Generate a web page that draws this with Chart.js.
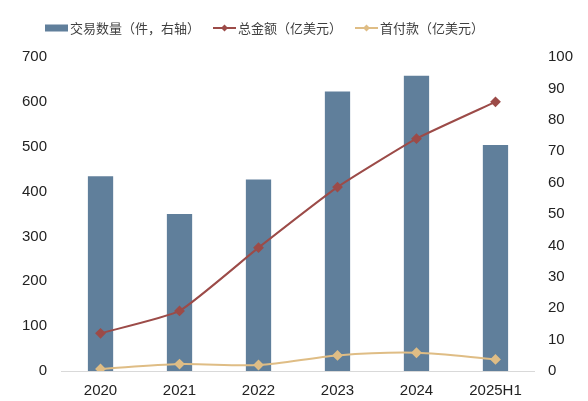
<!DOCTYPE html>
<html>
<head>
<meta charset="utf-8">
<script src="https://cdn.jsdelivr.net/npm/chart.js@4/dist/chart.umd.min.js"></script>
<style>
  html, body { margin: 0; padding: 0; background: #fff; }
  #wrap { width: 588px; height: 401px; }
</style>
</head>
<body>
<div id="wrap"><canvas id="chart" width="588" height="401"></canvas></div>
<script>
// 年份
const years = ["2020", "2021", "2022", "2023", "2024", "2025H1"];
// 交易数量（件，右轴）
const dealCount = [62, 50, 61, 89, 94, 72];
// 总金额（亿美元）
const totalAmount = [84, 134, 275, 410, 518, 600];
// 首付款（亿美元）
const upfront = [4.4, 15.5, 13.3, 34.7, 40.6, 25.9];

const leftTicks = [0, 100, 200, 300, 400, 500, 600, 700];
const rightTicks = [0, 10, 20, 30, 40, 50, 60, 70, 80, 90, 100];

const barColor = "#607f9b";
const redColor = "#9c4b48";
const goldColor = "#dfbd85";
const numFont = { family: "'Liberation Sans', Arial, sans-serif", size: 15 };

// 凡例を自前で描く（線＋菱形マーカー）
const legendPlugin = {
    id: "customLegend",
    afterDraw(chart) {
        const ctx = chart.ctx;
        const y = 28;
        ctx.save();
        ctx.font = "13px 'Noto Sans CJK SC', sans-serif";
        ctx.textBaseline = "middle";
        let x = 45;
        chart.data.datasets.forEach(function (ds) {
            if (ds.type === "bar") {
                ctx.fillStyle = ds.backgroundColor;
                ctx.fillRect(x, y - 3.5, 23, 7);
            } else {
                ctx.strokeStyle = ds.borderColor;
                ctx.lineWidth = 2;
                ctx.beginPath();
                ctx.moveTo(x, y);
                ctx.lineTo(x + 23, y);
                ctx.stroke();
                ctx.fillStyle = ds.borderColor;
                ctx.beginPath();
                ctx.moveTo(x + 11.5, y - 3.5);
                ctx.lineTo(x + 15, y);
                ctx.lineTo(x + 11.5, y + 3.5);
                ctx.lineTo(x + 8, y);
                ctx.closePath();
                ctx.fill();
            }
            x += 25;
            ctx.fillStyle = "#404040";
            ctx.fillText(ds.label, x, y);
            x += ctx.measureText(ds.label).width + 13;
        });
        ctx.restore();
    }
};

new Chart(document.getElementById("chart"), {
    data: {
        labels: years,
        datasets: [
            {
                type: "bar",
                label: "交易数量（件，右轴）",
                data: dealCount,
                yAxisID: "yRight",
                backgroundColor: barColor,
                barPercentage: 0.32,
                categoryPercentage: 1.0,
                order: 2
            },
            {
                type: "line",
                label: "总金额（亿美元）",
                data: totalAmount,
                yAxisID: "yLeft",
                borderColor: redColor,
                backgroundColor: redColor,
                borderWidth: 2,
                pointStyle: "rectRot",
                pointRadius: 4,
                tension: 0.15,
                order: 1
            },
            {
                type: "line",
                label: "首付款（亿美元）",
                data: upfront,
                yAxisID: "yLeft",
                borderColor: goldColor,
                backgroundColor: goldColor,
                borderWidth: 2,
                pointStyle: "rectRot",
                pointRadius: 4,
                tension: 0.3,
                order: 0
            }
        ]
    },
    options: {
        responsive: false,
        animation: false,
        layout: { padding: { top: 57, left: 8, right: 2, bottom: -10 } },
        plugins: {
            legend: { display: false },
            tooltip: { enabled: false }
        },
        scales: {
            x: {
                grid: { display: false, drawTicks: false },
                border: { color: "#d9d9d9", width: 1 },
                ticks: { color: "#222", font: numFont, padding: 11 }
            },
            yLeft: {
                position: "left",
                min: 0,
                max: 700,
                afterBuildTicks: function (axis) {
                    axis.ticks = leftTicks.map(v => ({ value: v }));
                },
                grid: { display: false, drawTicks: false },
                border: { display: false },
                ticks: { color: "#222", font: numFont, padding: 14 }
            },
            yRight: {
                position: "right",
                min: 0,
                max: 100,
                afterBuildTicks: function (axis) {
                    axis.ticks = rightTicks.map(v => ({ value: v }));
                },
                grid: { display: false, drawTicks: false },
                border: { display: false },
                ticks: { color: "#222", font: numFont, padding: 13 }
            }
        }
    },
    plugins: [legendPlugin]
});
</script>
</body>
</html>
